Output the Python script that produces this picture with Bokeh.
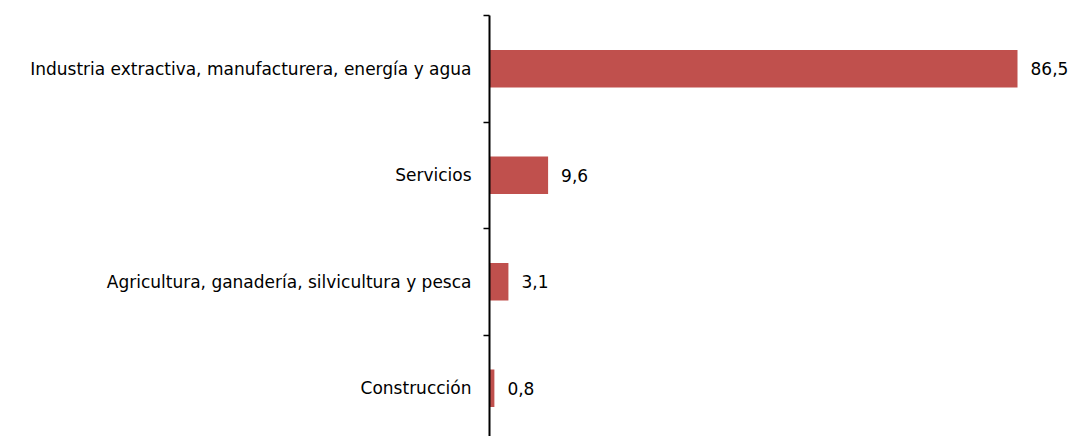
from bokeh.plotting import figure
from bokeh.models import Range1d, FixedTicker, ColumnDataSource
from bokeh.core.properties import value
from bokeh.embed import file_html
from bokeh.resources import INLINE

categories = [
    "Industria extractiva, manufacturera, energía y agua",
    "Servicios",
    "Agricultura, ganadería, silvicultura y pesca",
    "Construcción",
]
values = [86.5, 9.6, 3.1, 0.8]

n = len(categories)
ypos = [n - i - 0.5 for i in range(n)]
labels = [f"{v:.1f}".replace(".", ",") for v in values]

FONT = "DejaVu Sans"
BAR = "#C0504D"

src = ColumnDataSource(dict(y=ypos, v=values, lab=labels))

p = figure(
    width=1075, height=436,
    output_backend="svg", toolbar_location=None,
    x_range=Range1d(0, 96.0), y_range=Range1d(0.047, n),
    min_border_left=489, min_border_right=0, min_border_top=15, min_border_bottom=0,
)
p.outline_line_color = None
p.xgrid.visible = False
p.ygrid.visible = False
p.xaxis.visible = False

p.hbar(y="y", right="v", left=0, height=0.35, source=src, color=BAR, line_color=None)
p.text(x="v", y="y", text="lab", source=src, x_offset=13,
       text_baseline="middle", text_align="left",
       text_font=value(FONT), text_font_size="17px", text_color="black")

ax = p.yaxis[0]
ax.ticker = FixedTicker(ticks=ypos, minor_ticks=list(range(n + 1)))
ax.major_label_overrides = {y: c for y, c in zip(ypos, categories)}
ax.major_tick_out = 0
ax.major_tick_in = 0
ax.minor_tick_out = 6
ax.minor_tick_in = 0
ax.minor_tick_line_color = "black"
ax.minor_tick_line_width = 1.5
ax.axis_line_color = "black"
ax.axis_line_width = 2
ax.major_label_standoff = 12
ax.major_label_text_font = FONT
ax.major_label_text_font_size = "17px"
ax.major_label_text_color = "black"

open("out.html", "w").write(file_html(p, INLINE))
